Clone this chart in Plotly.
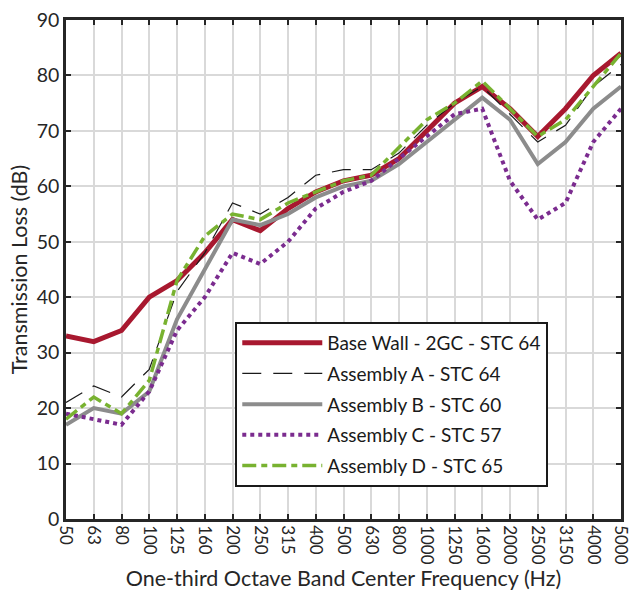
import plotly.graph_objects as go

freqs = ["50", "63", "80", "100", "125", "160", "200", "250", "315", "400", "500",
         "630", "800", "1000", "1250", "1600", "2000", "2500", "3150", "4000", "5000"]

base_wall = [33, 32, 34, 40, 43, 48, 54, 52, 56, 59, 61, 62, 65, 70, 75, 78, 74, 69, 74, 80, 84]
assembly_a = [21, 24, 22, 27, 41, 48, 57, 55, 58, 62, 63, 63, 66, 71, 75, 78, 73, 68, 71, 78, 82]
assembly_b = [17, 20, 19, 23, 36, 45, 54, 53, 55, 58, 60, 61, 64, 68, 72, 76, 72, 64, 68, 74, 78]
assembly_c = [19, 18, 17, 23, 34, 40, 48, 46, 50, 56, 59, 61, 65, 69, 73, 74, 61, 54, 57, 68, 74]
assembly_d = [18, 22, 19, 25, 43, 51, 55, 54, 57, 59, 61, 62, 67, 72, 75, 79, 74, 69, 72, 78, 84]

names = ["Base Wall - 2GC - STC 64", "Assembly A - STC 64", "Assembly B - STC 60",
         "Assembly C - STC 57", "Assembly D - STC 65"]
series = [base_wall, assembly_a, assembly_b, assembly_c, assembly_d]
styles = [
    dict(color="#A8182F", width=5, dash="solid"),
    dict(color="#1a1a1a", width=1.2, dash="19px,12px"),
    dict(color="#8C8C8C", width=4, dash="solid"),
    dict(color="#7B2C8F", width=4, dash="4px,4px"),
    dict(color="#78B230", width=3.5, dash="14px,5px,6px,5px"),
]

FONT = "Lato"
fig = go.Figure()
for i, (nm, ys, st) in enumerate(zip(names, series, styles)):
    fig.add_trace(go.Scatter(x=freqs, y=ys, mode="lines", name=nm, line=st,
                             legendgroup=f"g{i}"))

fig.update_layout(
    width=633, height=595,
    margin=dict(l=66, r=12, t=20, b=76, autoexpand=False),
    paper_bgcolor="white", plot_bgcolor="white",
    font=dict(family=FONT, color="#262626", size=16),
    showlegend=True,
    legend=dict(x=0.305, y=0.395, xanchor="left", yanchor="top",
                bordercolor="#1a1a1a", borderwidth=2, bgcolor="white",
                font=dict(size=19, family=FONT, color="#1a1a1a"),
                tracegroupgap=3, itemwidth=80),
)
fig.update_xaxes(
    type="category", range=[0, 20], tickangle=90, automargin=False,
    showgrid=True, gridcolor="#D9D9D9", gridwidth=2,
    showline=True, linecolor="#262626", linewidth=2.5, mirror="ticks",
    ticks="inside", ticklen=5, tickwidth=2, tickcolor="#262626",
    tickfont=dict(size=17, family=FONT, color="#262626"),
    title=dict(text="One-third Octave Band Center Frequency (Hz)",
               font=dict(size=21.5, family=FONT, color="#262626"), standoff=8),
)
fig.update_yaxes(
    range=[0, 90], dtick=10, tick0=0, automargin=False,
    showgrid=True, gridcolor="#D9D9D9", gridwidth=2, zeroline=False,
    showline=True, linecolor="#262626", linewidth=2.5, mirror="ticks",
    ticks="inside", ticklen=5, tickwidth=2, tickcolor="#262626",
    tickfont=dict(size=19.5, family=FONT, color="#262626"),
    title=dict(text="Transmission Loss (dB)",
               font=dict(size=21.5, family=FONT, color="#262626"), standoff=4),
)

fig.write_html("out.html")
